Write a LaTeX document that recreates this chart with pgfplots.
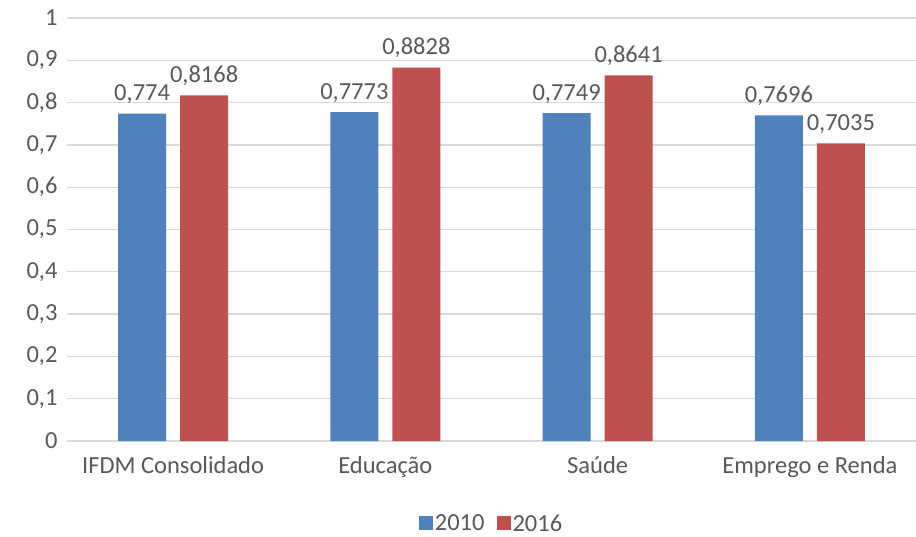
\documentclass[border=0pt]{standalone}
\usepackage{pgfplots}
\pgfplotsset{compat=1.18}
\usepackage{pgfplotstable}
\usepackage{fontspec}
\setmainfont{Carlito}
\definecolor{cblue}{HTML}{4F81BD}
\definecolor{cred}{HTML}{C0504D}
\definecolor{cgrid}{HTML}{D9D9D9}
\definecolor{ctext}{HTML}{595959}
\pgfplotstableread{
x y lab
0 0.774 0,774
1 0.7773 0,7773
2 0.7749 0,7749
3 0.7696 0,7696
}\tA
\pgfplotstableread{
x y lab
0 0.8168 0,8168
1 0.8828 0,8828
2 0.8641 0,8641
3 0.7035 0,7035
}\tB
\begin{document}
\begin{tikzpicture}
\begin{axis}[
  scale only axis,
  width=849pt, height=423pt,
  ybar, bar width=48pt,
  ymin=0, ymax=1, ytick={0,0.1,...,1},
  xmin=-0.5, xmax=3.5,
  xtick={0,1,2,3},
  xticklabels={IFDM Consolidado,Educação,Saúde,Emprego e Renda},
  axis line style={draw=none},
  major tick length=0pt,
  ymajorgrids, grid style={cgrid, line width=1.3pt},
  /pgf/number format/use comma,
  /pgf/number format/assume math mode=true,
  tick label style={font=\fontsize{24.5}{28}\selectfont, text=ctext},
  yticklabel style={xshift=-6pt},
  xticklabel style={yshift=-12pt},
  nodes near coords,
  point meta=explicit symbolic,
  every node near coord/.append style={font=\fontsize{24.5}{28}\selectfont, text=ctext, yshift=6pt},
  legend style={at={(0.5,-0.195)}, anchor=center, draw=none, legend columns=2,
    font=\fontsize{24.5}{28}\selectfont, text=ctext,
    /tikz/every even column/.append style={column sep=10pt}},
  legend image code/.code={\fill[#1] (0pt,-7pt) rectangle (14pt,7pt);},
]
\addplot[fill=cblue, draw=none, bar shift=-31pt] table[x=x,y=y,meta=lab]{\tA};
\addplot[fill=cred, draw=none, bar shift=31pt] table[x=x,y=y,meta=lab]{\tB};
\legend{2010,2016}
\end{axis}
\pgfresetboundingbox
\path (current axis.south west) ++(-67pt,-95pt) rectangle ++(916pt,536pt);
\end{tikzpicture}
\end{document}
